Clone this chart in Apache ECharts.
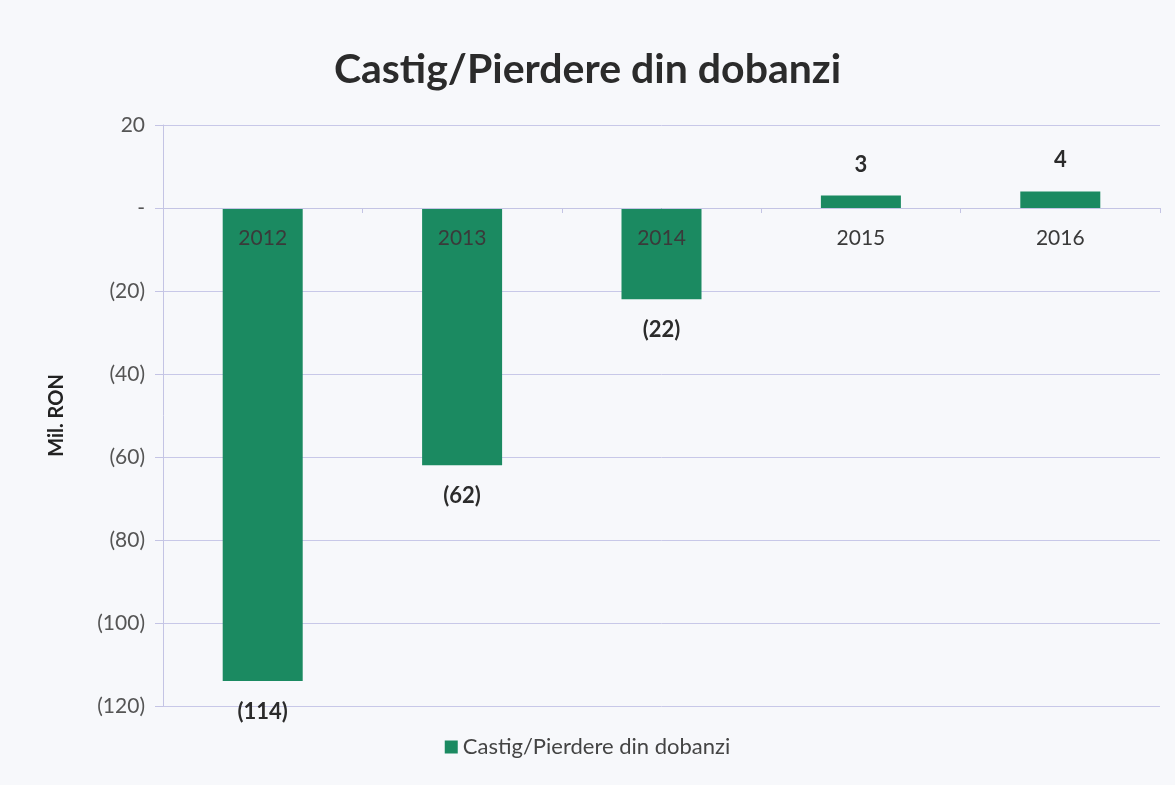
<!DOCTYPE html>
<html>
<head>
<meta charset="utf-8">
<script src="https://cdn.jsdelivr.net/npm/echarts@6/dist/echarts.min.js"></script>
<style>
  html, body { margin: 0; padding: 0; background: #f7f8fb; }
  #main { width: 1175px; height: 785px; }
</style>
</head>
<body>
<div id="main"></div>
<script>
var years = ['2012', '2013', '2014', '2015', '2016'];
var values = [-114, -62, -22, 3, 4];
var seriesName = 'Castig/Pierdere din dobanzi';

// 20 -> "20", 0 -> "-", -20 -> "(20)"
var fmt = function (v) {
    if (v === 0) return '-';
    return v < 0 ? '(' + Math.abs(v) + ')' : String(v);
};

var myChart = echarts.init(document.getElementById('main'));

var option = {
    backgroundColor: '#f7f8fb',
    textStyle: { fontFamily: 'Lato' },
    title: {
        text: 'Castig/Pierdere din dobanzi',
        left: 'center',
        top: 44,
        textStyle: { fontSize: 41, fontWeight: 'bold', color: '#2b2b2b', fontFamily: 'Lato' }
    },
    legend: {
        bottom: 22,
        left: 'center',
        itemWidth: 13,
        itemHeight: 13,
        itemGap: 6,
        icon: 'rect',
        textStyle: { fontSize: 22, color: '#444' },
        data: [seriesName]
    },
    grid: { left: 163, right: 15, top: 125, bottom: 79 },
    xAxis: {
        type: 'category',
        data: years,
        z: 5,
        // x axis sits on the zero line (208px), moved up from the grid bottom
        offset: -498,
        axisLine: { onZero: false, lineStyle: { color: '#c4c4e4' } },
        axisTick: { show: true, length: 5, lineStyle: { color: '#c4c4e4' } },
        axisLabel: { fontSize: 21, color: '#3a3a3a', margin: 20 }
    },
    yAxis: {
        type: 'value',
        min: -120,
        max: 20,
        interval: 20,
        name: 'Mil. RON',
        nameLocation: 'middle',
        nameGap: 96,
        nameTextStyle: { fontSize: 20, fontWeight: 'bold', color: '#222' },
        axisLine: { show: true, lineStyle: { color: '#c4c4e4' } },
        axisTick: { show: true, length: 8, lineStyle: { color: '#c4c4e4' } },
        axisLabel: { fontSize: 21, color: '#555', margin: 18, formatter: fmt },
        splitLine: { lineStyle: { color: '#c8c8e8' } }
    },
    series: [
        {
            name: seriesName,
            type: 'bar',
            barWidth: 80,
            itemStyle: { color: '#1b8a61' },
            data: values.map(function (v) {
                return {
                    value: v,
                    label: {
                        show: true,
                        position: v < 0 ? 'bottom' : 'top',
                        distance: 20,
                        fontSize: 22,
                        fontWeight: 'bold',
                        color: '#2b2b2b',
                        formatter: function (p) { return fmt(p.value); }
                    }
                };
            })
        }
    ]
};

myChart.setOption(option);
</script>
</body>
</html>
